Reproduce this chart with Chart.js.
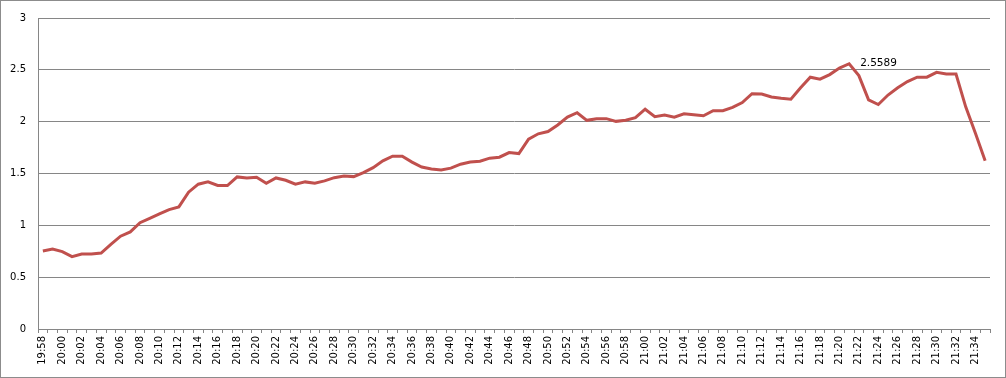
<!DOCTYPE html>
<html>
<head>
<meta charset="utf-8">
<script src="https://cdn.jsdelivr.net/npm/chart.js@4"></script>
<style>
  html, body { margin: 0; padding: 0; background: #fff; }
  canvas { display: block; }
</style>
</head>
<body>
<canvas id="chart" width="1006" height="378"></canvas>
<script>
// one sample per minute, 19:58 .. 21:35
const times = [
  '19:58','19:59','20:00','20:01','20:02','20:03','20:04','20:05','20:06','20:07',
  '20:08','20:09','20:10','20:11','20:12','20:13','20:14','20:15','20:16','20:17',
  '20:18','20:19','20:20','20:21','20:22','20:23','20:24','20:25','20:26','20:27',
  '20:28','20:29','20:30','20:31','20:32','20:33','20:34','20:35','20:36','20:37',
  '20:38','20:39','20:40','20:41','20:42','20:43','20:44','20:45','20:46','20:47',
  '20:48','20:49','20:50','20:51','20:52','20:53','20:54','20:55','20:56','20:57',
  '20:58','20:59','21:00','21:01','21:02','21:03','21:04','21:05','21:06','21:07',
  '21:08','21:09','21:10','21:11','21:12','21:13','21:14','21:15','21:16','21:17',
  '21:18','21:19','21:20','21:21','21:22','21:23','21:24','21:25','21:26','21:27',
  '21:28','21:29','21:30','21:31','21:32','21:33','21:34','21:35'
];

const values = [
  0.752, 0.771, 0.746, 0.698, 0.724, 0.724, 0.733, 0.816, 0.895, 0.937,
  1.025, 1.067, 1.111, 1.152, 1.178, 1.32, 1.397, 1.419, 1.384, 1.384,
  1.467, 1.457, 1.463, 1.406, 1.457, 1.435, 1.397, 1.419, 1.406, 1.429,
  1.46, 1.476, 1.47, 1.508, 1.556, 1.622, 1.667, 1.667, 1.61, 1.562,
  1.543, 1.533, 1.552, 1.59, 1.61, 1.619, 1.648, 1.657, 1.702, 1.692,
  1.832, 1.883, 1.905, 1.968, 2.044, 2.086, 2.013, 2.029, 2.029, 2.003,
  2.013, 2.038, 2.12, 2.048, 2.063, 2.044, 2.076, 2.067, 2.057, 2.105,
  2.105, 2.137, 2.184, 2.27, 2.267, 2.238, 2.225, 2.216, 2.327, 2.429,
  2.41, 2.454, 2.517, 2.5589, 2.444, 2.21, 2.165, 2.257, 2.327, 2.387,
  2.429, 2.429, 2.476, 2.46, 2.46, 2.143, 1.889, 1.622
];

// the single data label shown on the chart
const peakIndex = 83;
const peakLabel = '2.5589';

const gridColor = '#868686';

// white background + grey frame round the whole chart
const framePlugin = {
  id: 'frame',
  beforeDraw(chart) {
    const ctx = chart.ctx;
    ctx.save();
    ctx.fillStyle = '#fff';
    ctx.fillRect(0, 0, chart.width, chart.height);
    ctx.strokeStyle = '#8c8c8c';
    ctx.lineWidth = 1;
    ctx.strokeRect(0.5, 0.5, chart.width - 1, chart.height - 1);
    ctx.restore();
  }
};

// data label to the right of the peak point
const peakLabelPlugin = {
  id: 'peakLabel',
  afterDatasetsDraw(chart) {
    const pt = chart.getDatasetMeta(0).data[peakIndex];
    if (!pt) return;
    const ctx = chart.ctx;
    ctx.save();
    ctx.font = '10.5px "DejaVu Sans"';
    ctx.fillStyle = '#000';
    ctx.textAlign = 'left';
    ctx.textBaseline = 'middle';
    ctx.fillText(peakLabel, pt.x + 11, pt.y);
    ctx.restore();
  }
};

Chart.defaults.font.family = '"DejaVu Sans"';
Chart.defaults.font.size = 10;
Chart.defaults.color = '#000';

new Chart(document.getElementById('chart'), {
  type: 'line',
  data: {
    labels: times,
    datasets: [{
      data: values,
      borderColor: '#C0504D',
      borderWidth: 3,
      pointRadius: 0,
      tension: 0,
      fill: false
    }]
  },
  options: {
    responsive: false,
    animation: false,
    devicePixelRatio: 1,
    layout: { padding: { top: 15, right: 16, bottom: 0, left: 0 } },
    plugins: {
      legend: { display: false },
      tooltip: { enabled: false }
    },
    scales: {
      x: {
        type: 'category',
        offset: true,
        afterFit(scale) { scale.height = 49; },
        grid: {
          offset: true,
          drawOnChartArea: false,
          drawTicks: true,
          tickLength: 4,
          color: gridColor
        },
        border: { display: true, color: gridColor },
        ticks: {
          autoSkip: false,
          minRotation: 90,
          maxRotation: 90,
          padding: 3,
          callback(val, i) { return i % 2 === 0 ? times[i] : ''; }
        }
      },
      y: {
        min: 0,
        max: 3,
        afterFit(scale) { scale.width = 38; },
        grid: {
          color: gridColor,
          drawTicks: false
        },
        border: { display: true, color: gridColor },
        ticks: {
          stepSize: 0.5,
          padding: 12,
          callback(v) { return String(Math.round(v * 10) / 10); }
        }
      }
    }
  },
  plugins: [framePlugin, peakLabelPlugin]
});
</script>
</body>
</html>
